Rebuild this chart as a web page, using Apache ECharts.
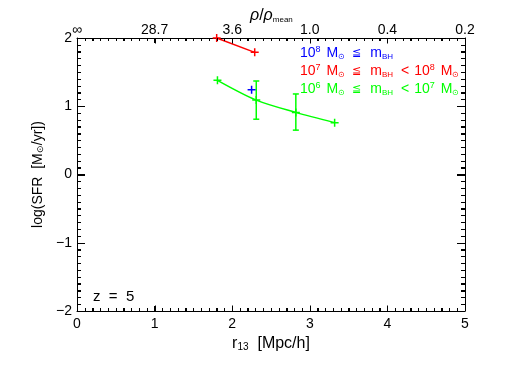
<!DOCTYPE html>
<html><head><meta charset="utf-8">
<script src="https://cdn.jsdelivr.net/npm/echarts@6/dist/echarts.min.js"></script>
<style>html,body{margin:0;padding:0;background:#fff}#c{width:518px;height:370px}</style>
</head><body><div id="c"></div>
<script>
var xTicks = [0, 1, 2, 3, 4, 5];
var topTickLabels = ['\u221e', '28.7', '3.6', '1.0', '0.4', '0.2'];
var yTicks = [-2, -1, 0, 1, 2];
var yTickLabels = ['\u22122', '\u22121', '0', '1', '2'];
var minorPerMajor = 10;

var redX = [1.80, 2.29];
var redY = [2.00, 1.79];
var blueX = [2.25];
var blueY = [1.24];
var greenX = [1.81, 2.31, 2.82, 3.32];
var greenY = [1.38, 1.09, 0.91, 0.76];
var greenErrLow = [null, 0.81, 0.65, null];
var greenErrHigh = [null, 1.37, 1.18, null];

var X0 = xTicks[0], X1 = xTicks[xTicks.length-1], Y0 = yTicks[0], Y1 = yTicks[yTicks.length-1];
function pairs(xs, ys){ return xs.map(function(x,i){ return [x, ys[i]]; }); }
var errData = [];
greenX.forEach(function(x,i){ if(greenErrLow[i]!==null) errData.push([x, greenErrLow[i], greenErrHigh[i]]); });

var FONT = 'Liberation Sans';
var plus = 'path://M0,-5L0,5M-5,0L5,0';
var chart = echarts.init(document.getElementById('c'), null, {renderer: 'canvas'});
function xAx(extra){
  return Object.assign({
    type: 'value', min: X0, max: X1, interval: 1,
    axisLine: {show: true, onZero: false, lineStyle: {color: '#000', width: 1}},
    splitLine: {show: false},
    axisTick: {show: true, inside: true, length: 5, lineStyle: {color: '#000', width: 1}},
    minorTick: {show: true, splitNumber: 10, length: 3, lineStyle: {color: '#000', width: 1}}
  }, extra);
}
function yAx(extra){
  return Object.assign({
    type: 'value', min: Y0, max: Y1, interval: 1,
    axisLine: {show: true, onZero: false, lineStyle: {color: '#000', width: 1}},
    splitLine: {show: false},
    axisTick: {show: true, inside: true, length: 8, lineStyle: {color: '#000', width: 1}},
    minorTick: {show: true, splitNumber: 10, length: 4, lineStyle: {color: '#000', width: 1}}
  }, extra);
}
function lab(extra){ return Object.assign({color: '#000', fontFamily: FONT, fontSize: 14}, extra); }
function legendText(y, color, txt){
  var r = {p: {fontSize: 9, verticalAlign: 'top', fill: color, padding: [0,0,7,0]},
           s: {fontSize: 8, fill: color, verticalAlign: 'bottom', padding: [6,0,0,0]},
           o: {fontSize: 8, fill: color, verticalAlign: 'bottom', padding: [5,0,0,0]},
           e: {fontSize: 11, fill: color}};
  [5,6,7,8,9].forEach(function(w){ r['g'+w] = {width: w}; });
  return {type: 'text', x: 300, y: y, style: {
    text: txt, fill: color, font: '14px "Liberation Sans"', verticalAlign: 'middle', align: 'left', rich: r}};
}
var part1 = function(e){ return '10{p|' + e + '}{g6| }M{o|\u2299}{g7| }{e|\u2266}{g9| }m{s|BH}'; };
var graphics = [
  {type: 'text', x: 250, y: 16, style: {
    text: '{i|\u03c1}/{i|\u03c1}{s|mean}', font: '16px "Liberation Sans"', fill: '#000', verticalAlign: 'middle',
    rich: {i: {fontSize: 16, fontStyle: 'italic', fontFamily: FONT}, s: {fontSize: 8, fontFamily: FONT, verticalAlign: 'bottom', padding: [8,0,0,0]}}}},
  legendText(53, '#0000ff', part1(8)),
  legendText(71, '#ff0000', part1(7) + '{g8| }<{g5| }10{p|8}{g6| }M{o|\u2299}'),
  legendText(89, '#00ff00', part1(6) + '{g8| }<{g5| }10{p|7}{g6| }M{o|\u2299}'),
  {type: 'text', x: 93, y: 297, style: {text: 'z  =  5', fill: '#000', font: '15px "Liberation Sans"', verticalAlign: 'middle'}}
];
chart.setOption({
  animation: false,
  textStyle: {fontFamily: FONT},
  grid: {left: 77, right: 53, top: 38, bottom: 59},
  xAxis: [
    xAx({position: 'bottom',
      axisLabel: lab({margin: 6}),
      name: 'r{s|13}  [Mpc/h]', nameLocation: 'middle', nameGap: 23,
      nameTextStyle: {color: '#000', fontFamily: FONT, fontSize: 16, verticalAlign: 'top',
        rich: {s: {fontSize: 10, verticalAlign: 'bottom', padding: [7,0,0,0]}}}}),
    xAx({position: 'top',
      axisLabel: lab({margin: 1, formatter: function(v){ var i = xTicks.indexOf(v); return i>=0 ? topTickLabels[i] : ''; }})})
  ],
  yAxis: [
    yAx({position: 'left',
      axisLabel: lab({margin: 5, formatter: function(v){ var i = yTicks.indexOf(v); return i>=0 ? yTickLabels[i] : ''; }}),
      name: 'log(SFR  [M{s|\u2299}/yr])', nameLocation: 'middle', nameGap: 25, nameRotate: 90,
      nameTextStyle: {color: '#000', fontFamily: FONT, fontSize: 14,
        rich: {s: {fontSize: 9, verticalAlign: 'bottom', padding: [5,0,0,0]}}}}),
    yAx({position: 'right', axisLabel: {show: false}})
  ],
  graphic: graphics,
  series: [
    {type: 'line', data: pairs(redX, redY),
      lineStyle: {color: '#ff0000', width: 1.5}, symbol: plus, symbolSize: 8,
      itemStyle: {color: 'none', borderColor: '#ff0000', borderWidth: 1.5}},
    {type: 'line', data: pairs(blueX, blueY),
      lineStyle: {color: '#0000ff', width: 1.5}, symbol: plus, symbolSize: 8,
      itemStyle: {color: 'none', borderColor: '#0000ff', borderWidth: 1.5}},
    {type: 'line', data: pairs(greenX, greenY), smooth: 0.3,
      lineStyle: {color: '#00ff00', width: 1.5}, symbol: plus, symbolSize: 8,
      itemStyle: {color: 'none', borderColor: '#00ff00', borderWidth: 1.5}},
    {type: 'custom', data: errData,
      renderItem: function(params, api){
        var lo = api.coord([api.value(0), api.value(1)]);
        var hi = api.coord([api.value(0), api.value(2)]);
        var w = 3;
        var st = {stroke: '#00ff00', lineWidth: 1.5};
        return {type: 'group', children: [
          {type: 'line', shape: {x1: lo[0], y1: lo[1], x2: hi[0], y2: hi[1]}, style: st},
          {type: 'line', shape: {x1: lo[0]-w, y1: lo[1], x2: lo[0]+w, y2: lo[1]}, style: st},
          {type: 'line', shape: {x1: hi[0]-w, y1: hi[1], x2: hi[0]+w, y2: hi[1]}, style: st}
        ]};
      }}
  ]
});

// Tick marks positioned through the chart's own scales (convertToPixel)
var tickLines = [];
function px(v){ return chart.convertToPixel({xAxisIndex: 0, yAxisIndex: 0}, v); }
function addTicks(ticks, isY){
  var vals = [];
  for (var i = 0; i < ticks.length; i++){
    vals.push([ticks[i], true]);
    if (i < ticks.length - 1){
      var step = (ticks[i+1] - ticks[i]) / minorPerMajor;
      for (var k = 1; k < minorPerMajor; k++) vals.push([ticks[i] + k*step, false]);
    }
  }
  vals.forEach(function(t){
    var a, b, L;
    if (!isY){
      a = px([t[0], Y0]); b = px([t[0], Y1]); L = t[1] ? 5.5 : 3;
      var x = Math.round(a[0]) + 0.5;
      tickLines.push({type: 'line', z: 100, shape: {x1: x, y1: a[1], x2: x, y2: a[1]-L}, style: {stroke: '#000', lineWidth: 1}});
      tickLines.push({type: 'line', z: 100, shape: {x1: x, y1: b[1], x2: x, y2: b[1]+L}, style: {stroke: '#000', lineWidth: 1}});
    } else {
      a = px([X0, t[0]]); b = px([X1, t[0]]); L = t[1] ? 8 : 4;
      var y = Math.round(a[1]) + 0.5;
      tickLines.push({type: 'line', z: 100, shape: {x1: a[0], y1: y, x2: a[0]+L, y2: y}, style: {stroke: '#000', lineWidth: 1}});
      tickLines.push({type: 'line', z: 100, shape: {x1: b[0], y1: y, x2: b[0]-L, y2: y}, style: {stroke: '#000', lineWidth: 1}});
    }
  });
}
addTicks(xTicks, false); addTicks(yTicks, true);
chart.setOption({graphic: graphics.concat(tickLines)});
</script></body></html>
